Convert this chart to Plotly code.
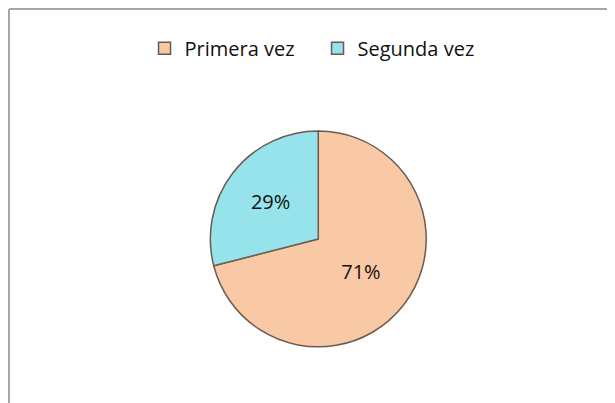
import plotly.graph_objects as go

labels = ["Primera vez", "Segunda vez"]
values = [71, 29]
colors = ["#f9c9a6", "#97e3ec"]

fig = go.Figure()

fig.add_trace(go.Pie(
    labels=labels,
    values=values,
    sort=False,
    direction="clockwise",
    rotation=0,
    texttemplate="%{percent:.0%}",
    textposition="inside",
    insidetextorientation="horizontal",
    textfont=dict(size=20, color="#111111"),
    marker=dict(colors=colors, line=dict(color="#6b5a50", width=1.5)),
    domain=dict(x=[0.329, 0.680], y=[0.159, 0.695]),
    hoverinfo="label+percent"
))

# outer frame (only top and left edges show in the picture)
fig.add_shape(type="line", xref="paper", yref="paper",
              x0=0.0016, y0=0.9975, x1=1.0, y1=0.9975,
              line=dict(color="#a6a6a6", width=2))
fig.add_shape(type="line", xref="paper", yref="paper",
              x0=0.0016, y0=0.9975, x1=0.0016, y1=0.0,
              line=dict(color="#a6a6a6", width=2))

fig.update_layout(
    width=615, height=403,
    margin=dict(l=0, r=0, t=0, b=0),
    paper_bgcolor="white",
    plot_bgcolor="white",
    font=dict(family="Open Sans", color="#111111"),
    showlegend=True,
    legend=dict(
        orientation="h",
        x=0.222, xanchor="left",
        y=0.90, yanchor="middle",
        font=dict(size=20),
        itemwidth=30,
        entrywidth=128,
        traceorder="normal"
    )
)

fig.write_html("out.html")
